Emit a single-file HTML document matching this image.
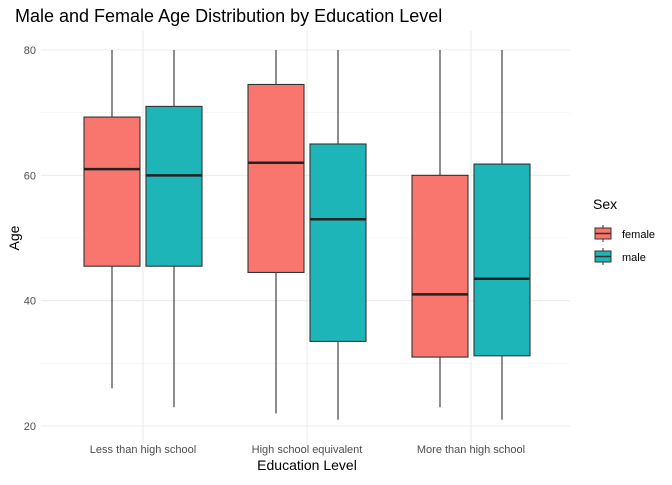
<!DOCTYPE html>
<html><head><meta charset="utf-8"><style>
body{margin:0;background:#fff;font-family:"Liberation Sans",sans-serif}
svg text{font-family:"Liberation Sans",sans-serif}
</style></head><body>
<svg width="672" height="480">
<text x="15" y="22" font-size="18" fill="#000">Male and Female Age Distribution by Education Level</text>
<g id="grid"></g><g id="boxes"></g><g id="axes"></g>
<text x="307" y="470" font-size="14" text-anchor="middle">Education Level</text>
<text transform="translate(19,238) rotate(-90)" font-size="14" text-anchor="middle">Age</text>
<g>
<text x="593" y="209" font-size="14">Sex</text>
<g>
<line x1="603" y1="225" x2="603" y2="242" stroke="#333"/><rect x="595" y="228" width="16" height="11" fill="#F8766D" stroke="#333"/><line x1="595" y1="233.5" x2="611" y2="233.5" stroke="#333" stroke-width="1.5"/>
<text x="622" y="238" font-size="11">female</text></g>
<g>
<line x1="603" y1="248" x2="603" y2="265" stroke="#333"/><rect x="595" y="251" width="16" height="11" fill="#1EB5B8" stroke="#333"/><line x1="595" y1="256.5" x2="611" y2="256.5" stroke="#333" stroke-width="1.5"/>
<text x="622" y="261" font-size="11">male</text></g>
</g>
</svg>
<script>
const categories=["Less than high school","High school equivalent","More than high school"];
const femaleStats=[[26,45.5,61,69.3,80],[22,44.5,62,74.5,80],[23,31,41,60,80]];
const maleStats=[[23,45.5,60,71,80],[21,33.5,53,65,80],[21,31.2,43.5,61.8,80]];
const yTicks=[20,40,60,80];
const yMinor=[30,50,70];
const NS="http://www.w3.org/2000/svg";
const y=v=>50+(80-v)*376/60;
const x=i=>143+i*164;
function mk(p,t,a){const e=document.createElementNS(NS,t);for(const k in a)e.setAttribute(k,a[k]);p.appendChild(e);return e;}
const grid=document.getElementById('grid'),boxes=document.getElementById('boxes'),axes=document.getElementById('axes');
yMinor.forEach(v=>{const l=mk(grid,'line',{x1:41,x2:570,y1:y(v),y2:y(v),stroke:'#f2f2f2','stroke-width':0.6});

});
yTicks.forEach(v=>{const l=mk(grid,'line',{x1:41,x2:570,y1:y(v),y2:y(v),stroke:'#ebebeb','stroke-width':1.1});


const t=mk(axes,'text',{x:36,y:y(v)+4,'font-size':11,fill:'#4d4d4d','text-anchor':'end'});t.textContent=v;

});
categories.forEach((c,i)=>{const l=mk(grid,'line',{x1:x(i),x2:x(i),y1:31,y2:444,stroke:'#ebebeb','stroke-width':1.1});


const t=mk(axes,'text',{x:x(i),y:453,'font-size':11,fill:'#4d4d4d','text-anchor':'middle'});t.textContent=c;

});
function box(s,cx,fill,name){const g=mk(boxes,'g',{});


mk(g,'line',{x1:cx,x2:cx,y1:y(s[0]),y2:y(s[4]),stroke:'#333','stroke-width':1.1});
mk(g,'rect',{x:cx-28,y:y(s[3]),width:56,height:y(s[1])-y(s[3]),fill:fill,stroke:'#333','stroke-width':1.1});
mk(g,'line',{x1:cx-28,x2:cx+28,y1:y(s[2]),y2:y(s[2]),stroke:'#222','stroke-width':2.5});}
categories.forEach((c,i)=>{box(femaleStats[i],x(i)-31,'#F8766D','box-female-'+i);box(maleStats[i],x(i)+31,'#1EB5B8','box-male-'+i);});
</script>
</body></html>
